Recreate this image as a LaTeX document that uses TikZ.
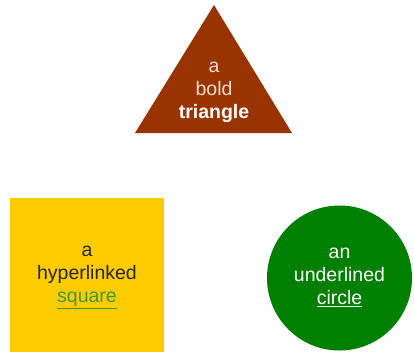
\documentclass[tikz,border=0pt]{standalone}
\usepackage{fontspec}
\setmainfont{Liberation Sans}
\definecolor{brickbrown}{HTML}{993300}
\definecolor{goldyellow}{HTML}{FFCC00}
\definecolor{leafgreen}{HTML}{008000}
\definecolor{linkgreen}{HTML}{3A9A3A}
\definecolor{paletext}{HTML}{F3DDD0}

\begin{document}
\begin{tikzpicture}[
    x=1pt, y=1pt,
    label/.style={align=center, font=\fontsize{19.5}{23}\selectfont, inner sep=0pt},
    shapebox/.style={rectangle, fill=goldyellow, minimum size=154pt, inner sep=0pt},
    shapecircle/.style={circle, fill=leafgreen, minimum size=145pt, inner sep=0pt},
]
\useasboundingbox (0,0) rectangle (414,-351);

% Triangle
\fill[brickbrown] (214,-5) -- (292,-133) -- (135,-133) -- cycle;
\node[label, text=paletext] (tri) at (214,-92.5) {a\\bold\\\textcolor{white}{\textbf{triangle}}};

% Square
\node[shapebox] (sq) at (87,-275) {};
\node[label, text=black!85] (sqtext) at (87,-277.5) {a\\hyperlinked\\\textcolor{linkgreen}{\underline{square}}};

% Circle
\node[shapecircle] (circ) at (339.5,-278) {};
\node[label, text=white] (circtext) at (339.5,-277.5) {an\\underlined\\\underline{circle}};

\end{tikzpicture}
\end{document}
